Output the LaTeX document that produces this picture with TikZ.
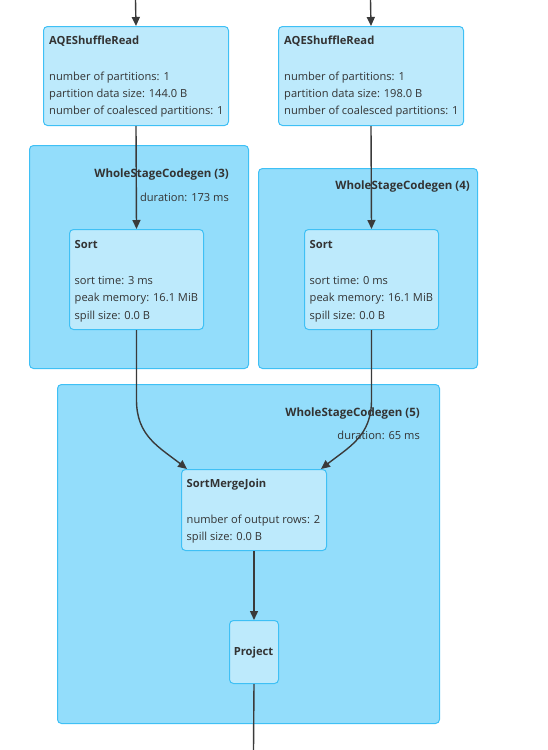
\documentclass[tikz,border=0pt]{standalone}
\usepackage{fontspec}
\setmainfont{Open Sans}
\usetikzlibrary{arrows.meta}
\definecolor{clusterfill}{HTML}{93DDFB}
\definecolor{nodefill}{HTML}{BDEAFC}
\definecolor{edgeblue}{HTML}{3FC0F5}
\definecolor{linegray}{HTML}{3A3A3A}
\definecolor{txt}{HTML}{333333}
\tikzset{
  cluster/.style={draw=edgeblue, fill=clusterfill, line width=1pt, rounded corners=4pt, anchor=north west, inner sep=0pt},
  opbox/.style={draw=edgeblue, fill=nodefill, line width=1pt, rounded corners=4pt, anchor=north west, inner sep=0pt},
  metric/.style={anchor=base west, inner sep=0pt, font=\fontsize{11.1}{13}\selectfont, text=txt},
  opname/.style={anchor=base west, inner sep=0pt, font=\bfseries\fontsize{11.2}{13}\selectfont, text=txt},
  ctitle/.style={anchor=base east, inner sep=0pt, font=\bfseries\fontsize{11.5}{13}\selectfont, text=txt},
  cmetric/.style={anchor=base east, inner sep=0pt, font=\fontsize{11.1}{13}\selectfont, text=txt},
  flow/.style={draw=linegray, line width=1.4pt, -{Triangle[width=8pt,length=9pt]}},
  plain/.style={draw=linegray, line width=1.4pt},
}
\begin{document}
\begin{tikzpicture}[x=1pt,y=-1pt]
\useasboundingbox (0,0) rectangle (547,750);
% clusters
\node[cluster, minimum width=219pt, minimum height=223pt] (wsc3) at (29,145) {};
\node[cluster, minimum width=219pt, minimum height=200pt] (wsc4) at (258,168) {};
\node[cluster, minimum width=382pt, minimum height=339pt] (wsc5) at (57,384) {};
\node[ctitle] (wsc3t) at (229,177) {WholeStageCodegen (3)};
\node[cmetric] (wsc3d) at (229,201) {duration: 173 ms};
\node[ctitle] (wsc4t) at (470,189) {WholeStageCodegen (4)};
\node[ctitle] (wsc5t) at (420,416) {WholeStageCodegen (5)};
\node[cmetric] (wsc5d) at (420,439) {duration: 65 ms};
% coordinates for free ends
\coordinate (inL) at (135.5,0);
\coordinate (inR) at (370.5,0);
\coordinate (outP) at (253.5,750);
% operator boxes
\node[opbox, minimum width=185pt, minimum height=99pt] (aqeL) at (43,26) {};
\node[opbox, minimum width=185pt, minimum height=99pt] (aqeR) at (278,26) {};
\node[opbox, minimum width=134pt, minimum height=100pt] (sortL) at (69,229) {};
\node[opbox, minimum width=134pt, minimum height=100pt] (sortR) at (304,229) {};
\node[opbox, minimum width=145pt, minimum height=81pt] (smj) at (181,469) {};
\node[opbox, minimum width=49pt, minimum height=63pt] (proj) at (229,620) {};
% edges
\draw[flow] (inL) -- (aqeL.north);
\draw[flow] (inR) -- (aqeR.north);
\draw[flow] (aqeL.south) -- (sortL.north);
\draw[flow] (aqeR.south) -- (sortR.north);
\draw[flow] (sortL.south) -- ++(0,70) .. controls +(0,36) and +(-28,-22) .. ([xshift=6pt]smj.north west);
\draw[flow] (sortR.south) -- ++(0,70) .. controls +(0,36) and +(28,-22) .. ([xshift=-6pt]smj.north east);
\draw[flow] (smj.south) -- (proj.north);
\draw[plain] (proj.south) -- (outP);
% texts
\node[opname] (aqeLn) at (49,44) {AQEShuffleRead};
\node[metric] (aqeL1) at (49,80.5) {number of partitions: 1};
\node[metric] (aqeL2) at (49,97.5) {partition data size: 144.0 B};
\node[metric] (aqeL3) at (49,114.5) {number of coalesced partitions: 1};
\node[opname] (aqeRn) at (284,44) {AQEShuffleRead};
\node[metric] (aqeR1) at (284,80.5) {number of partitions: 1};
\node[metric] (aqeR2) at (284,97.5) {partition data size: 198.0 B};
\node[metric] (aqeR3) at (284,114.5) {number of coalesced partitions: 1};
\node[opname] (sortLn) at (74.5,248) {Sort};
\node[metric] (sortL1) at (74.5,284) {sort time: 3 ms};
\node[metric] (sortL2) at (74.5,301.5) {peak memory: 16.1 MiB};
\node[metric] (sortL3) at (74.5,319) {spill size: 0.0 B};
\node[opname] (sortRn) at (309.5,248) {Sort};
\node[metric] (sortR1) at (309.5,284) {sort time: 0 ms};
\node[metric] (sortR2) at (309.5,301.5) {peak memory: 16.1 MiB};
\node[metric] (sortR3) at (309.5,319) {spill size: 0.0 B};
\node[opname] (smjn) at (186.5,487) {SortMergeJoin};
\node[metric] (smj1) at (186.5,523) {number of output rows: 2};
\node[metric] (smj2) at (186.5,540) {spill size: 0.0 B};
\node[anchor=base, inner sep=0pt, font=\bfseries\fontsize{11.2}{13}\selectfont, text=txt] (projn) at (253.5,655.5) {Project};
\end{tikzpicture}
\end{document}
